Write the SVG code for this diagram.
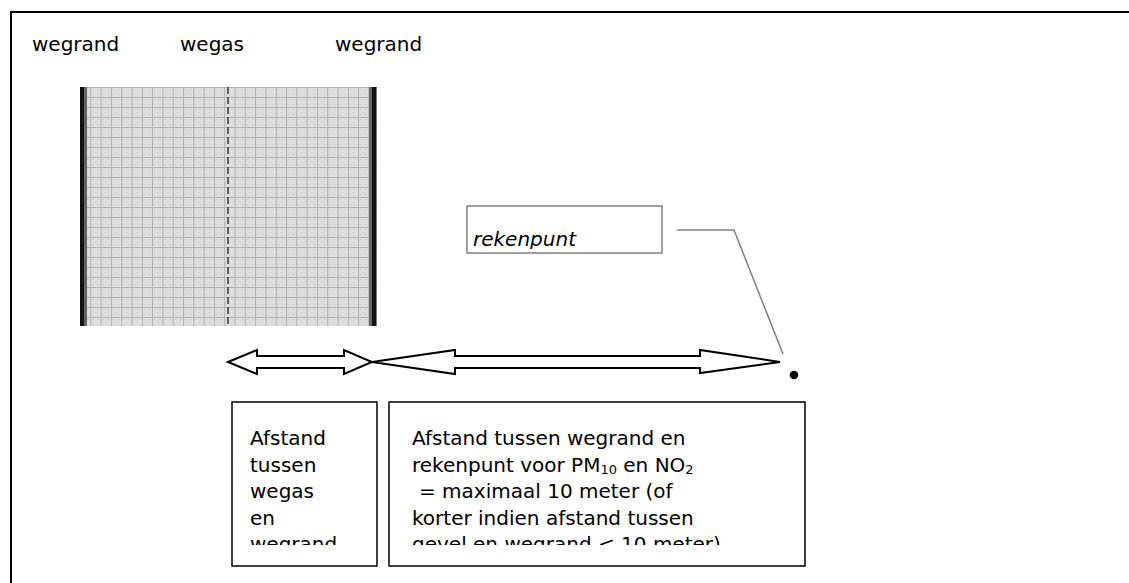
<svg xmlns="http://www.w3.org/2000/svg" width="1129" height="583" viewBox="0 0 1129 583">
<style>
.t{font-family:"DejaVu Sans","Verdana",sans-serif;font-size:20px;fill:#000}
.box{fill:#fff;stroke:#000;stroke-width:1.5}
.arr{fill:#fff;stroke:#000;stroke-width:2;stroke-linejoin:miter}
.call{fill:none;stroke:#808080;stroke-width:1.5}
</style>
<defs>
<pattern id="grid" x="80" y="87" width="10.3" height="10" patternUnits="userSpaceOnUse">
<rect width="10.3" height="10" fill="#dedede"/>
<rect x="2" y="2" width="1" height="1" fill="#c6c6c6"/>
<rect x="5" y="5" width="1" height="1" fill="#c6c6c6"/>
<rect x="7" y="2" width="1" height="1" fill="#c6c6c6"/>
<rect x="2" y="7" width="1" height="1" fill="#c6c6c6"/>
<rect x="7" y="7" width="1" height="1" fill="#c6c6c6"/>
<rect x="0" y="0" width="10.3" height="1" fill="#b0b0b0"/>
<rect x="0" y="0" width="1" height="10" fill="#b0b0b0"/>
</pattern>
<clipPath id="c1"><rect x="232" y="402" width="145" height="143"/></clipPath>
<clipPath id="c2"><rect x="389" y="402" width="416" height="143"/></clipPath>
<clipPath id="c3"><rect x="467" y="206" width="195" height="43"/></clipPath>
</defs>

<g id="frame">
<line x1="11" y1="12" x2="1129" y2="12" stroke="#000" stroke-width="2"/>
<line x1="11" y1="11" x2="11" y2="583" stroke="#000" stroke-width="2"/>
</g>

<g id="labels">
<text class="t" x="32" y="51">wegrand</text>
<text class="t" x="180" y="51">wegas</text>
<text class="t" x="335" y="51">wegrand</text>
</g>

<g id="road">
<rect x="80" y="87" width="297" height="239" fill="url(#grid)"/>
<rect x="80" y="87" width="4" height="239" fill="#111"/>
<rect x="84" y="87" width="3" height="239" fill="#666"/>
<rect x="369" y="87" width="3" height="239" fill="#666"/>
<rect x="372" y="87" width="4.5" height="239" fill="#111"/>
<line x1="228" y1="87" x2="228" y2="326" stroke="#333" stroke-width="1.5" stroke-dasharray="7 3"/>
</g>

<g id="rekenpunt-label">
<rect x="467" y="206" width="195" height="47" fill="#fff" stroke="#808080" stroke-width="1.5"/>
<text class="t" x="473" y="246" font-style="italic" clip-path="url(#c3)">rekenpunt</text>
</g>

<g id="rekenpunt">
<circle cx="794" cy="375" r="4.3" fill="#000"/>
</g>

<g id="box-left">
<rect class="box" x="232" y="402" width="145" height="164"/>
<g clip-path="url(#c1)">
<text class="t" x="250" y="445">Afstand</text>
<text class="t" x="250" y="471.5">tussen</text>
<text class="t" x="250" y="498">wegas</text>
<text class="t" x="250" y="524.5">en</text>
<text class="t" x="250" y="551">wegrand</text>
</g>
</g>

<g id="box-right">
<rect class="box" x="389" y="402" width="416" height="164"/>
<g clip-path="url(#c2)">
<text class="t" x="412" y="445">Afstand tussen wegrand en</text>
<text class="t" x="412" y="471.5">rekenpunt voor PM<tspan font-size="13" dy="2">10</tspan><tspan dy="-2"> en NO</tspan><tspan font-size="13" dy="2">2</tspan></text>
<text class="t" x="419" y="498">= maximaal 10 meter (of</text>
<text class="t" x="412" y="524.5">korter indien afstand tussen</text>
<text class="t" x="412" y="551">gevel en wegrand  &lt; 10 meter)</text>
</g>
</g>

<g id="connectors">
<polygon class="arr" points="228,362 257,350 257,356 344,356 344,350 372,362 344,374 344,368 257,368 257,374"/>
<polygon class="arr" points="372,362 455,350 455,356 700,356 700,350 780,362 700,373 700,368 455,368 455,374"/>
<polyline class="call" points="677,230 734,230 783,354"/>
</g>
</svg>
